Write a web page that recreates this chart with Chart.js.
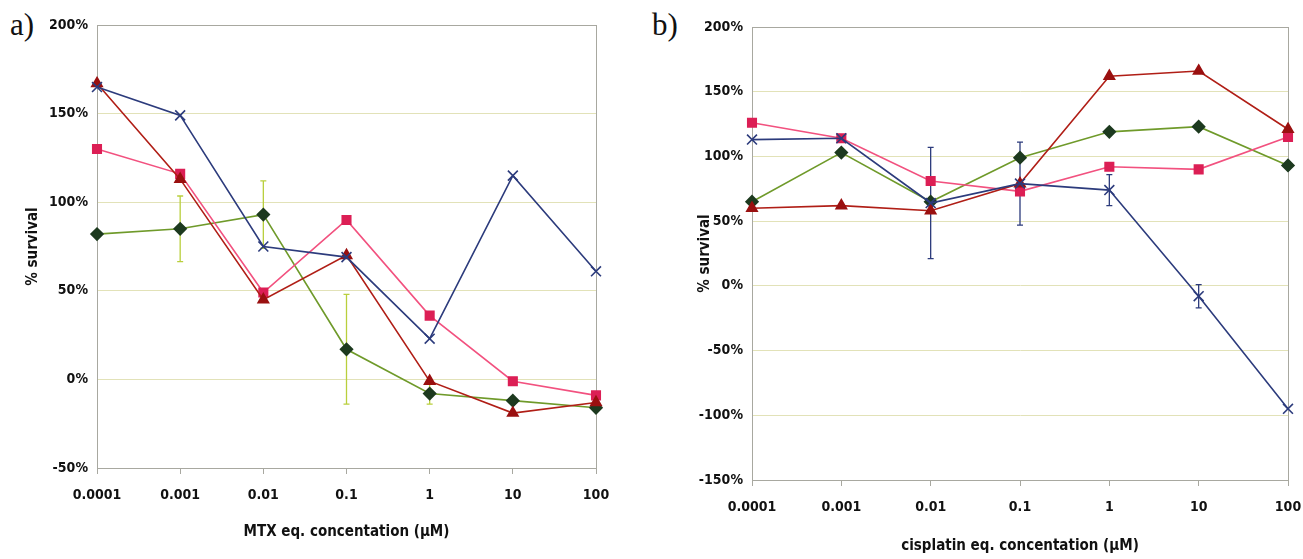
<!DOCTYPE html>
<html>
<head>
<meta charset="utf-8">
<script src="https://cdn.jsdelivr.net/npm/chart.js@4.4.1/dist/chart.umd.min.js"></script>
<style>
  html, body { margin: 0; padding: 0; background: #ffffff; }
  body { width: 1303px; height: 559px; position: relative; overflow: hidden; }
  .panel { position: absolute; top: 0; }
  .lbl { position: absolute; font-family: "Liberation Serif", "DejaVu Serif", serif; font-size: 31px; color: #111; }
</style>
</head>
<body>
<div class="lbl" style="left:10px; top:7px;">a)</div>
<div class="lbl" style="left:652px; top:7px;">b)</div>
<div class="panel" style="left:0px;"><canvas id="ca" width="645" height="559"></canvas></div>
<div class="panel" style="left:640px;"><canvas id="cb" width="700" height="559"></canvas></div>
<script>
// ---------- data ----------
const categories = ['0.0001', '0.001', '0.01', '0.1', '1', '10', '100'];

// panel a (MTX)
const mtxDiamond = [82, 85, 93, 17, -8, -12, -16];
const mtxDiamondErr = [null, 18.5, 19, 31, 6, null, null];
const mtxSquare = [130, 116, 49, 90, 36, -1, -9];
const mtxTriangle = [167, 113, 45, 70, -1, -19, -13];
const mtxCross = [165, 149, 75, 69, 23, 115, 61];

// panel b (cisplatin)
const cisDiamond = [65, 103, 65, 99, 119, 123, 93];
const cisSquare = [126, 114, 81, 73, 92, 90, 115];
const cisTriangle = [60, 62, 58, 79, 162, 166, 121];
const cisCross = [113, 114, 64, 79, 74, -8, -95];
const cisCrossErr = [null, null, 43, 32, 12, 9, null];

const yTicksA = { min: -50, max: 200, step: 50 };
const yTicksB = { min: -150, max: 200, step: 50 };

// ---------- styling ----------
const FONT = '"Liberation Sans Narrow", "DejaVu Sans Condensed", "Liberation Sans", sans-serif';
const C = {
  cross: '#2c3b7c',
  squareLine: '#f2517f',
  squareFill: '#dc1f55',
  triLine: '#b01e16',
  triFill: '#9a1010',
  diaLine: '#6f9a2a',
  diaFill: '#1d3a1f',
  grid: '#e2e2b8',
  frame: '#a8a8a0'
};

const framePlugin = {
  id: 'frame',
  beforeDatasetsDraw(chart) {
    const { ctx, chartArea: a } = chart;
    ctx.save();
    ctx.strokeStyle = C.frame;
    ctx.lineWidth = 1;
    ctx.strokeRect(a.left + 0.5, a.top + 0.5, a.right - a.left, a.bottom - a.top);
    ctx.restore();
  }
};

const errPlugin = {
  id: 'errbars',
  beforeDatasetsDraw(chart) {
    const ctx = chart.ctx, ys = chart.scales.y;
    chart.data.datasets.forEach((ds, i) => {
      if (!ds.errors) return;
      const meta = chart.getDatasetMeta(i);
      meta.data.forEach((pt, j) => {
        const e = ds.errors[j];
        if (e == null) return;
        const v = ds.data[j];
        const t = ys.getPixelForValue(v + e), b = ys.getPixelForValue(v - e);
        ctx.save();
        ctx.strokeStyle = ds.errorColor;
        ctx.lineWidth = 1.3;
        ctx.beginPath();
        ctx.moveTo(pt.x, t); ctx.lineTo(pt.x, b);
        ctx.moveTo(pt.x - 3, t); ctx.lineTo(pt.x + 3, t);
        ctx.moveTo(pt.x - 3, b); ctx.lineTo(pt.x + 3, b);
        ctx.stroke();
        ctx.restore();
      });
    });
  }
};

function makeDatasets(diamond, square, triangle, cross, diaErr, crossErr, errColorDia, errColorCross) {
  return [
    { label: 'cross', data: cross, borderColor: C.cross, backgroundColor: C.cross,
      pointStyle: 'crossRot', pointRadius: 7, pointBorderWidth: 1.6, borderWidth: 1.6,
      errors: crossErr, errorColor: errColorCross, clip: false, order: 1 },
    { label: 'triangle', data: triangle, borderColor: C.triLine, backgroundColor: C.triFill,
      pointBorderColor: C.triFill, pointStyle: 'triangle', pointRadius: 6, borderWidth: 1.6,
      clip: false, order: 2 },
    { label: 'square', data: square, borderColor: C.squareLine, backgroundColor: C.squareFill,
      pointBorderColor: C.squareFill, pointStyle: 'rect', pointRadius: 6, borderWidth: 1.6,
      clip: false, order: 3 },
    { label: 'diamond', data: diamond, borderColor: C.diaLine, backgroundColor: C.diaFill,
      pointBorderColor: C.diaFill, pointStyle: 'rectRot', pointRadius: 6, borderWidth: 1.6,
      errors: diaErr, errorColor: errColorDia, clip: false, order: 4 }
  ];
}

function makeChart(id, datasets, yt, xTitle, geom) {
  return new Chart(document.getElementById(id), {
    type: 'line',
    data: { labels: categories, datasets: datasets },
    plugins: [framePlugin, errPlugin],
    options: {
      responsive: false,
      animation: false,
      layout: { padding: geom.padding },
      plugins: { legend: { display: false }, tooltip: { enabled: false } },
      elements: { line: { tension: 0 } },
      scales: {
        x: {
          type: 'category',
          offset: false,
          grid: { display: true, drawOnChartArea: false, drawTicks: true, tickLength: 6, color: C.frame },
          border: { color: C.frame },
          ticks: { font: { family: FONT, size: 14, weight: 'bold' }, color: '#111', padding: 13, maxRotation: 0 },
          title: { display: true, text: xTitle, font: { family: FONT, size: 15, weight: 'bold' }, color: '#111', padding: { top: 4, bottom: 4 } },
          afterFit(s) { s.height = geom.xh; }
        },
        y: {
          min: yt.min, max: yt.max,
          grid: { color: C.grid, drawTicks: false, lineWidth: 1 },
          border: { color: C.frame },
          ticks: { stepSize: yt.step, callback: v => v + '%', font: { family: FONT, size: 14, weight: 'bold' }, color: '#111', padding: 9 },
          title: { display: true, text: '% survival', font: { family: FONT, size: 15, weight: 'bold' }, color: '#111', padding: 4 },
          afterFit(s) { s.width = geom.yw; }
        }
      }
    }
  });
}

makeChart('ca',
  makeDatasets(mtxDiamond, mtxSquare, mtxTriangle, mtxCross, mtxDiamondErr, null, '#b9cf3c', C.cross),
  yTicksA, 'MTX eq. concentation (\u00b5M)',
  { padding: { left: 20, right: 49, top: 25, bottom: 14 }, yw: 77, xh: 77 });

makeChart('cb',
  makeDatasets(cisDiamond, cisSquare, cisTriangle, cisCross, null, cisCrossErr, '#b9cf3c', C.cross),
  yTicksB, 'cisplatin eq. concentation (\u00b5M)',
  { padding: { left: 52, right: 52, top: 27, bottom: 0 }, yw: 60, xh: 79 });
</script>
</body>
</html>
